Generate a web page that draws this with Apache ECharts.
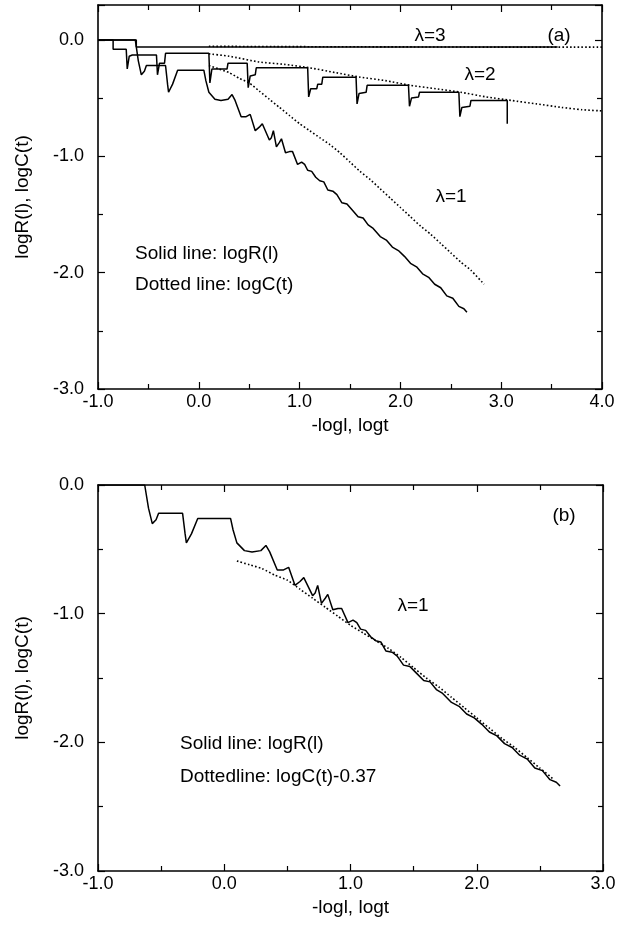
<!DOCTYPE html>
<html>
<head>
    <meta charset="utf-8">
    <title>logR(l), logC(t) vs -logl, logt</title>
    <script src="https://cdn.jsdelivr.net/npm/echarts@6/dist/echarts.min.js"></script>
    <style>
        body, html { margin: 0; padding: 0; width: 100%; height: 100%; overflow: hidden; background: #fff; }
        #main { width: 617px; height: 927px; }
    </style>
</head>
<body>
    <div id="main"></div>
    <script type="text/javascript">
        // values: [-logl or logt, logR or logC]
        var lam3R = [[-1, 0], [-0.62, 0], [-0.62, -0.06], [-0.5, -0.06], [0.5, -0.06], [1.5, -0.062], [3.56, -0.062]];
        var lam3C = [[0.1, -0.055], [1.0, -0.058], [2.0, -0.06], [3.0, -0.062], [4.0, -0.062]];

        var lam2R = [[-1, 0], [-0.85, 0], [-0.85, -0.08], [-0.72, -0.08], [-0.71, -0.25], [-0.69, -0.14], [-0.66, -0.13],
            [-0.42, -0.13], [-0.41, -0.30], [-0.39, -0.20], [-0.34, -0.20], [-0.33, -0.115], [0.10, -0.115],
            [0.11, -0.37], [0.13, -0.25], [0.28, -0.25], [0.29, -0.20], [0.48, -0.20], [0.49, -0.41], [0.51, -0.31],
            [0.56, -0.30], [0.57, -0.24], [1.08, -0.24], [1.09, -0.49], [1.11, -0.42], [1.17, -0.42], [1.18, -0.38],
            [1.22, -0.38], [1.23, -0.32], [1.56, -0.32], [1.57, -0.55], [1.59, -0.46], [1.66, -0.45], [1.67, -0.39],
            [2.08, -0.39], [2.09, -0.57], [2.11, -0.50], [2.18, -0.49], [2.19, -0.45], [2.58, -0.45], [2.59, -0.66],
            [2.61, -0.58], [2.69, -0.57], [2.70, -0.52], [3.06, -0.52], [3.06, -0.72]];
        var lam2C = [[0.1, -0.12], [0.3, -0.14], [0.6, -0.19], [0.85, -0.21], [1.1, -0.24], [1.35, -0.28], [1.6, -0.32],
            [1.85, -0.35], [2.1, -0.39], [2.35, -0.42], [2.6, -0.45], [2.85, -0.49], [3.1, -0.52], [3.35, -0.55],
            [3.6, -0.58], [3.8, -0.60], [4.0, -0.61]];

        var lam1R = [[-1, 0], [-0.63, 0], [-0.60, -0.18], [-0.57, -0.30], [-0.54, -0.27], [-0.52, -0.22], [-0.33, -0.22],
            [-0.31, -0.38], [-0.30, -0.45], [-0.26, -0.38], [-0.21, -0.26], [0.05, -0.26], [0.07, -0.35], [0.10, -0.45],
            [0.16, -0.51], [0.22, -0.52], [0.29, -0.51], [0.33, -0.47], [0.36, -0.52], [0.42, -0.66], [0.47, -0.66],
            [0.51, -0.64], [0.56, -0.78], [0.60, -0.75], [0.63, -0.72], [0.70, -0.86], [0.72, -0.84], [0.74, -0.78],
            [0.77, -0.92], [0.80, -0.88], [0.82, -0.85], [0.86, -0.97], [0.90, -0.96], [0.93, -0.96], [0.98, -1.07],
            [1.02, -1.05], [1.05, -1.07], [1.08, -1.12], [1.12, -1.13], [1.16, -1.18], [1.20, -1.21], [1.24, -1.22],
            [1.28, -1.29], [1.33, -1.30], [1.37, -1.33], [1.42, -1.40], [1.47, -1.41], [1.52, -1.46], [1.58, -1.52],
            [1.63, -1.53], [1.68, -1.59], [1.73, -1.62], [1.80, -1.69], [1.86, -1.72], [1.92, -1.78], [1.98, -1.81],
            [2.04, -1.86], [2.10, -1.92], [2.16, -1.95], [2.22, -2.01], [2.28, -2.04], [2.34, -2.10], [2.40, -2.13],
            [2.46, -2.20], [2.52, -2.22], [2.58, -2.29], [2.63, -2.31], [2.66, -2.34]];
        var lam1C = [[0.10, -0.22], [0.2, -0.25], [0.3, -0.28], [0.4, -0.33], [0.5, -0.37], [0.6, -0.44], [0.7, -0.51],
            [0.8, -0.58], [0.9, -0.65], [1.0, -0.72], [1.1, -0.78], [1.2, -0.84], [1.3, -0.90], [1.4, -0.97],
            [1.5, -1.05], [1.6, -1.13], [1.7, -1.20], [1.8, -1.28], [1.9, -1.36], [2.0, -1.44], [2.1, -1.52],
            [2.2, -1.60], [2.3, -1.67], [2.4, -1.75], [2.5, -1.83], [2.6, -1.91], [2.7, -1.98], [2.83, -2.10]];

        // panel (b): dotted line is logC(t) - 0.37, drawn up to the end of the solid curve
        var cShift = 0.37;
        var lam1CShifted = lam1C.filter(function (p) { return p[0] <= 2.66; })
            .map(function (p) { return [p[0], +(p[1] - cShift).toFixed(3)]; });

        var FONT = '"Liberation Sans", Arial, Helvetica, sans-serif';

        function fmt(v) { return v.toFixed(1); }

        function xAx(gridIndex, min, max, top) {
            return {
                type: 'value', gridIndex: gridIndex, min: min, max: max, interval: 1,
                position: top ? 'top' : 'bottom',
                name: top ? '' : '-logl, logt', nameLocation: 'middle', nameGap: 27,
                nameTextStyle: { color: '#000', fontSize: 19, fontFamily: FONT },
                axisLine: { show: true, onZero: false, lineStyle: { color: '#000', width: 1.6 } },
                axisTick: { show: true, inside: true, length: 7, lineStyle: { color: '#000', width: 1.2 } },
                minorTick: { show: true, splitNumber: 2, length: 5, lineStyle: { color: '#000', width: 1.2 } },
                axisLabel: { show: !top, margin: 4, color: '#000', fontSize: 18, fontFamily: FONT, formatter: fmt,
                    showMinLabel: true, showMaxLabel: true },
                splitLine: { show: false }
            };
        }

        function yAx(gridIndex, min, max, right) {
            return {
                type: 'value', gridIndex: gridIndex, min: min, max: max, interval: 1,
                position: right ? 'right' : 'left',
                name: right ? '' : 'logR(l), logC(t)', nameLocation: 'middle', nameGap: 66, nameRotate: 90,
                nameTextStyle: { color: '#000', fontSize: 19, fontFamily: FONT },
                axisLine: { show: true, onZero: false, lineStyle: { color: '#000', width: 1.6 } },
                axisTick: { show: true, inside: true, length: 7, lineStyle: { color: '#000', width: 1.2 } },
                minorTick: { show: true, splitNumber: 2, length: 5, lineStyle: { color: '#000', width: 1.2 } },
                axisLabel: { show: !right, margin: 14, color: '#000', fontSize: 18, fontFamily: FONT, formatter: fmt,
                    showMinLabel: true, showMaxLabel: max === 0 },
                splitLine: { show: false }
            };
        }

        function solid(data, xi, yi) {
            return {
                type: 'line', data: data, xAxisIndex: xi, yAxisIndex: yi, showSymbol: false, symbol: 'none',
                silent: true, animation: false, clip: true,
                lineStyle: { color: '#000', width: 1.5, type: 'solid' }
            };
        }

        function dotted(data, xi, yi) {
            return {
                type: 'line', data: data, xAxisIndex: xi, yAxisIndex: yi, showSymbol: false, symbol: 'none',
                silent: true, animation: false, clip: true, smooth: 0.2,
                lineStyle: { color: '#000', width: 1.6, type: [1.6, 2.2] }
            };
        }

        function txt(s, x, y, size, align) {
            return {
                type: 'text', x: x, y: y, silent: true,
                style: { text: s, fill: '#000', font: size + 'px ' + FONT,
                    textAlign: align || 'center', textVerticalAlign: 'middle',
                    align: align || 'center', verticalAlign: 'middle' }
            };
        }

        var myChart = echarts.init(document.getElementById('main'), null, { renderer: 'canvas' });

        myChart.setOption({
            backgroundColor: '#fff',
            animation: false,
            grid: [
                { left: 98, right: 15, top: 5, bottom: 538, outerBoundsMode: 'none', containLabel: false },
                { left: 98, right: 14, top: 485, bottom: 56, outerBoundsMode: 'none', containLabel: false }
            ],
            xAxis: [xAx(0, -1, 4, false), xAx(0, -1, 4, true), xAx(1, -1, 3, false), xAx(1, -1, 3, true)],
            yAxis: [yAx(0, -3, 0.3, false), yAx(0, -3, 0.3, true), yAx(1, -3, 0, false), yAx(1, -3, 0, true)],
            series: [
                solid(lam3R, 0, 0),
                dotted(lam3C, 0, 0),
                solid(lam2R, 0, 0),
                dotted(lam2C, 0, 0),
                solid(lam1R, 0, 0),
                dotted(lam1C, 0, 0),
                solid(lam1R, 2, 2),
                dotted(lam1CShifted, 2, 2)
            ],
            graphic: [
                txt('\u03bb=3', 430, 36, 19),
                txt('(a)', 559, 36, 19),
                txt('\u03bb=2', 480, 75, 19),
                txt('\u03bb=1', 451, 197, 19),
                txt('Solid line: logR(l)', 135, 254, 19, 'left'),
                txt('Dotted line: logC(t)', 135, 285, 19, 'left'),
                txt('(b)', 564, 516, 19),
                txt('\u03bb=1', 413, 606, 19),
                txt('Solid line: logR(l)', 180, 744, 19, 'left'),
                txt('Dottedline: logC(t)-0.37', 180, 777, 19, 'left')
            ]
        });
    </script>
</body>
</html>
